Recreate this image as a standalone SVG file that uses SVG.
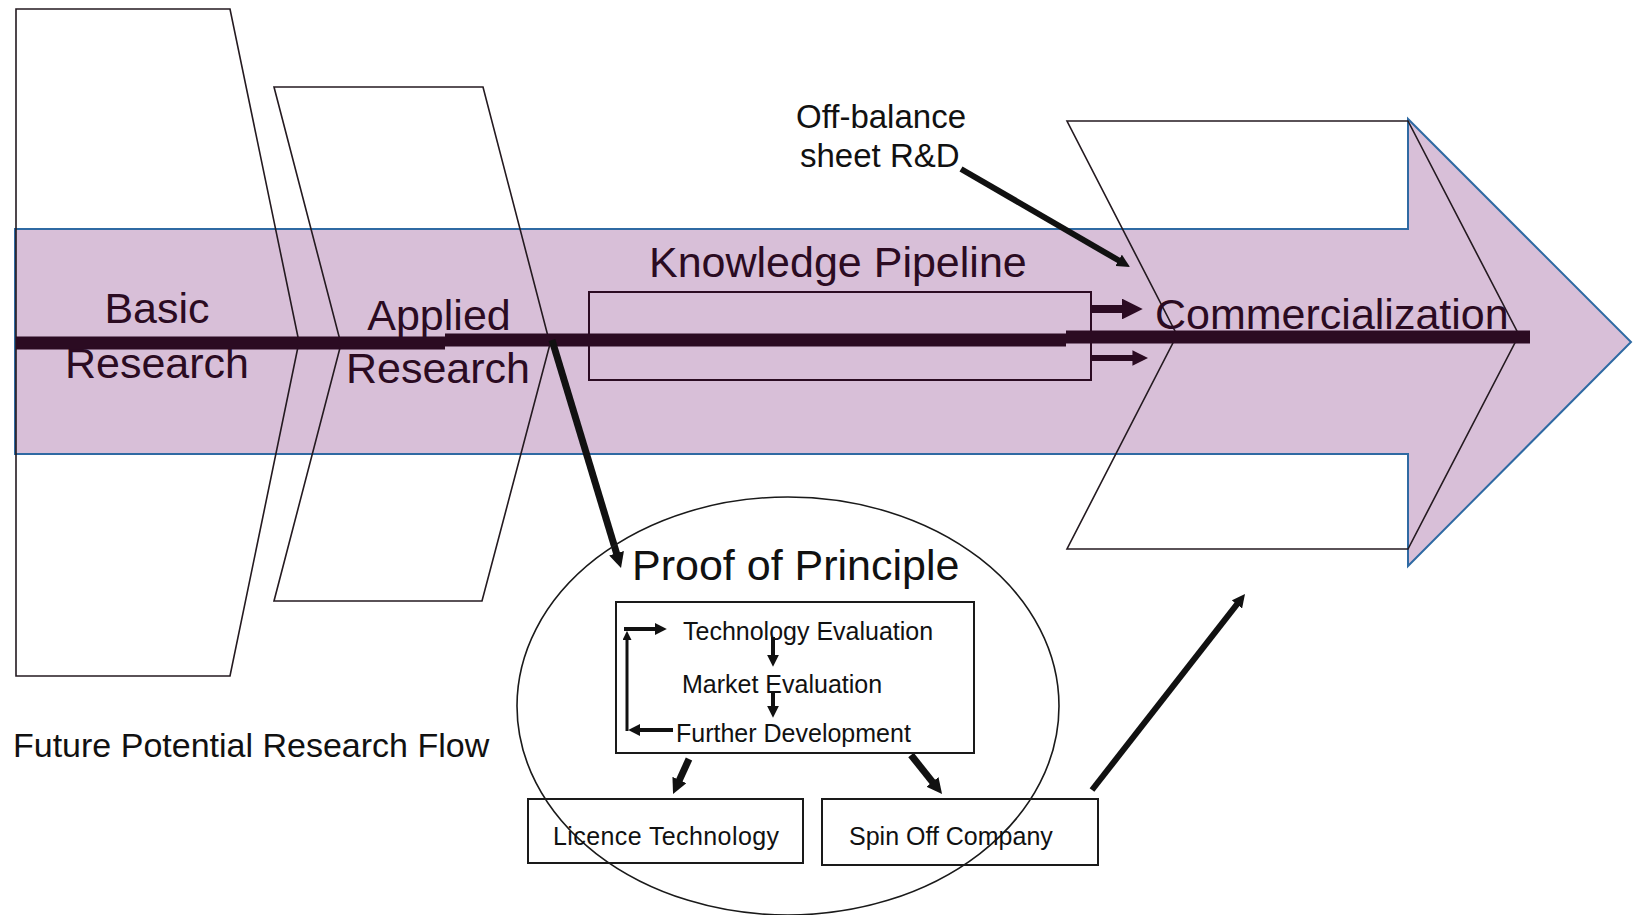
<svg xmlns="http://www.w3.org/2000/svg" width="1633" height="915" viewBox="0 0 1633 915">
  <style>
    .txt { font-family: "Liberation Sans", Arial, sans-serif; }
    .band-txt { fill: #2b0b22; font-size: 43px; }
    .dark-txt { fill: #111; }
    .stage { fill: none; stroke: #241a20; stroke-width: 1.6; stroke-linejoin: miter; }
    .box { fill: none; stroke: #1a1a1a; stroke-width: 2; }
    .pipe { fill: none; stroke: #2b0b22; stroke-width: 2; }
    .flow { fill: none; stroke: #111; stroke-linecap: butt; marker-end: url(#head); }
    .flow-sm { fill: none; stroke: #111; stroke-linecap: butt; marker-end: url(#headSm); }
    .flow-in { fill: none; stroke: #2b0b22; stroke-linecap: butt; marker-end: url(#headIn); }
  </style>
  <defs>
    <marker id="head" viewBox="0 0 10 10" refX="1" refY="5" markerWidth="2.2" markerHeight="2.2" markerUnits="strokeWidth" orient="auto">
      <path d="M0,0 L10,5 L0,10 z" fill="#111"/>
    </marker>
    <marker id="headSm" viewBox="0 0 10 10" refX="1" refY="5" markerWidth="3" markerHeight="3" markerUnits="strokeWidth" orient="auto">
      <path d="M0,0 L10,5 L0,10 z" fill="#111"/>
    </marker>
    <marker id="headIn" viewBox="0 0 10 10" refX="1" refY="5" markerWidth="2.6" markerHeight="2.6" markerUnits="strokeWidth" orient="auto">
      <path d="M0,0 L10,5 L0,10 z" fill="#2b0b22"/>
    </marker>
  </defs>

  <rect x="0" y="0" width="1633" height="915" fill="#ffffff"/>

  <!-- main research-flow arrow -->
  <g id="flow-arrow">
    <polygon points="15,229 1408,229 1408,119 1631,342 1408,566 1408,454 15,454" fill="#d8bfd8" stroke="#2f6aa3" stroke-width="2"/>
  </g>

  <!-- stage chevrons -->
  <g id="basic-research">
    <polygon class="stage" points="16,9 230,9 299,342 230,676 16,676"/>
    <text class="txt band-txt" x="157" y="323" text-anchor="middle">Basic</text>
    <text class="txt band-txt" x="157" y="378" text-anchor="middle">Research</text>
  </g>

  <g id="applied-research">
    <polygon class="stage" points="274,87 483,87 550,344 482,601 274,601 341,344"/>
    <text class="txt band-txt" x="439" y="330" text-anchor="middle">Applied</text>
    <text class="txt band-txt" x="438" y="383" text-anchor="middle">Research</text>
  </g>

  <g id="commercialization">
    <polygon class="stage" points="1067,121 1408,121 1519,335 1408,549 1067,549 1177,335"/>
    <text class="txt band-txt" x="1155" y="329">Commercialization</text>
  </g>

  <g id="knowledge-pipeline">
    <text class="txt band-txt" x="649" y="277">Knowledge Pipeline</text>
    <rect class="pipe" x="589" y="292" width="502" height="88"/>
  </g>

  <!-- connectors -->
  <g id="connectors">
    <!-- main knowledge flow bar -->
    <path d="M16,343 H445 M445,340 H1066 M1066,337 H1530" fill="none" stroke="#2b0b22" stroke-width="13"/>
    <!-- pipeline outputs -->
    <line class="flow-in" x1="1091" y1="309" x2="1124" y2="309" stroke-width="8"/>
    <line class="flow-in" x1="1091" y1="358" x2="1134" y2="358" stroke-width="6"/>
    <!-- off-balance sheet R&D -->
    <line class="flow" x1="961" y1="169" x2="1119.7" y2="261" stroke-width="6"/>
    <!-- applied research to proof of principle -->
    <line class="flow" x1="552" y1="340" x2="617" y2="554.7" stroke-width="7"/>
    <!-- evaluation loop -->
    <line class="flow-sm" x1="773" y1="637" x2="773" y2="656" stroke-width="4"/>
    <line class="flow-sm" x1="773" y1="692" x2="773" y2="707" stroke-width="4"/>
    <line class="flow-sm" x1="673" y1="730" x2="639" y2="730" stroke-width="4"/>
    <line class="flow-sm" x1="627" y1="731" x2="627" y2="639" stroke-width="3"/>
    <line class="flow-sm" x1="624" y1="629" x2="656" y2="629" stroke-width="4"/>
    <!-- exits from proof of principle -->
    <line class="flow" x1="689" y1="759" x2="678.8" y2="781.4" stroke-width="7"/>
    <line class="flow" x1="911" y1="755" x2="933.4" y2="783.1" stroke-width="7"/>
    <line class="flow" x1="1092" y1="790" x2="1237.7" y2="603.4" stroke-width="6"/>
  </g>

  <g id="off-balance">
    <text class="txt dark-txt" x="796" y="128" font-size="33">Off-balance</text>
    <text class="txt dark-txt" x="800" y="167" font-size="33">sheet R&amp;D</text>
  </g>

  <g id="proof-of-principle">
    <ellipse cx="788" cy="706" rx="271" ry="209" fill="none" stroke="#1a1a1a" stroke-width="1.6"/>
    <text class="txt dark-txt" x="632" y="580" font-size="43">Proof of Principle</text>
  </g>

  <g id="evaluation-box">
    <rect class="box" x="616" y="602" width="358" height="151"/>
    <text class="txt dark-txt" x="683" y="640" font-size="25">Technology Evaluation</text>
    <text class="txt dark-txt" x="682" y="693" font-size="25">Market Evaluation</text>
    <text class="txt dark-txt" x="676" y="742" font-size="25">Further Development</text>
  </g>

  <g id="licence-technology">
    <rect class="box" x="528" y="799" width="275" height="64"/>
    <text class="txt dark-txt" x="553" y="845" font-size="25" textLength="226">Licence Technology</text>
  </g>

  <g id="spin-off-company">
    <rect class="box" x="822" y="799" width="276" height="66"/>
    <text class="txt dark-txt" x="849" y="845" font-size="25">Spin Off Company</text>
  </g>

  <g id="research-flow-label">
    <text class="txt dark-txt" x="13" y="757" font-size="34">Future Potential Research Flow</text>
  </g>
</svg>
